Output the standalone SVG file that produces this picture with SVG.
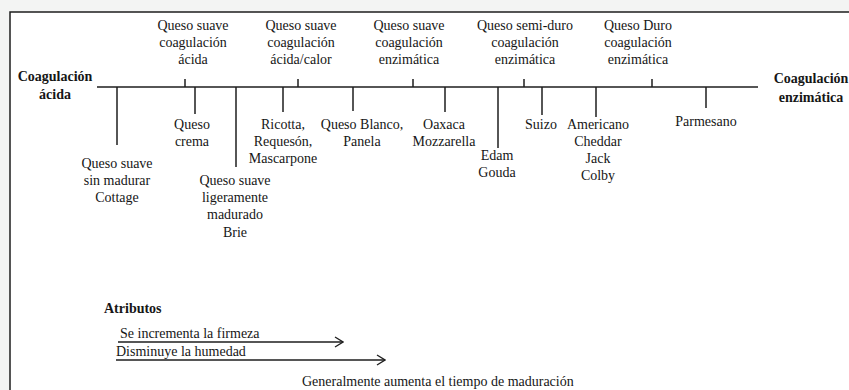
<svg xmlns="http://www.w3.org/2000/svg" width="849" height="390" viewBox="0 0 849 390">
<style>
text{font-family:"Liberation Serif","Times New Roman",serif;font-size:14px;fill:#161616;text-anchor:middle}
.b{font-weight:bold}
.l{text-anchor:start}
.ln{stroke:#1e1e1e;stroke-width:1.5;fill:none}
</style>
<defs>
<marker id="chev" viewBox="0 0 10 12" refX="9" refY="6" markerWidth="10" markerHeight="12" markerUnits="userSpaceOnUse" orient="auto">
<path d="M1,1 L9,6 L1,11" fill="none" stroke="#1e1e1e" stroke-width="1.3"/>
</marker>
</defs>
<rect x="0" y="0" width="849" height="390" fill="#f3f4f3"/>
<rect x="10" y="12" width="839" height="378" fill="#ffffff"/>
<path class="ln" d="M10,390 V12 H849" stroke-width="1.6"/>

<g id="connectors">
<line class="ln" x1="97" y1="87" x2="758" y2="87"/>
<!-- upper ticks -->
<line class="ln" x1="185" y1="79" x2="185" y2="87"/>
<line class="ln" x1="298" y1="79" x2="298" y2="87"/>
<line class="ln" x1="413" y1="79" x2="413" y2="87"/>
<line class="ln" x1="524" y1="79" x2="524" y2="87"/>
<line class="ln" x1="652" y1="79" x2="652" y2="87"/>
<!-- lower ticks -->
<line class="ln" x1="117" y1="87" x2="117" y2="145"/>
<line class="ln" x1="195" y1="87" x2="195" y2="114"/>
<line class="ln" x1="236" y1="87" x2="236" y2="167"/>
<line class="ln" x1="283" y1="87" x2="283" y2="112"/>
<line class="ln" x1="353" y1="87" x2="353" y2="111"/>
<line class="ln" x1="445" y1="87" x2="445" y2="112"/>
<line class="ln" x1="498" y1="87" x2="498" y2="148"/>
<line class="ln" x1="542" y1="87" x2="542" y2="115"/>
<line class="ln" x1="596" y1="87" x2="596" y2="117"/>
<line class="ln" x1="706" y1="87" x2="706" y2="108"/>
<!-- attribute arrows -->
<line class="ln" x1="118" y1="342" x2="343" y2="342" stroke-width="1.2" marker-end="url(#chev)"/>
<line class="ln" x1="116" y1="360" x2="385" y2="360" stroke-width="1.2" marker-end="url(#chev)"/>
</g>

<g id="end-left"><text class="b" x="55" y="81">Coagulación</text><text class="b" x="55" y="99">ácida</text></g>
<g id="end-right"><text class="b" x="811" y="83">Coagulación</text><text class="b" x="811" y="102">enzimática</text></g>

<g id="up-acida"><text x="193" y="30">Queso suave</text><text x="193" y="47">coagulación</text><text x="193" y="64">ácida</text></g>
<g id="up-acidacalor"><text x="301" y="30">Queso suave</text><text x="301" y="47">coagulación</text><text x="301" y="64">ácida/calor</text></g>
<g id="up-enzimatica"><text x="409" y="30">Queso suave</text><text x="409" y="47">coagulación</text><text x="409" y="64">enzimática</text></g>
<g id="up-semiduro"><text x="525" y="30">Queso semi-duro</text><text x="525" y="47">coagulación</text><text x="525" y="64">enzimática</text></g>
<g id="up-duro"><text x="638" y="30">Queso Duro</text><text x="638" y="47">coagulación</text><text x="638" y="64">enzimática</text></g>

<g id="cottage"><text x="117" y="168">Queso suave</text><text x="117" y="185">sin madurar</text><text x="117" y="202">Cottage</text></g>
<g id="crema"><text x="192" y="129">Queso</text><text x="192" y="146">crema</text></g>
<g id="brie"><text x="235" y="185">Queso suave</text><text x="235" y="202">ligeramente</text><text x="235" y="219">madurado</text><text x="235" y="237">Brie</text></g>
<g id="ricotta"><text x="283" y="129">Ricotta,</text><text x="283" y="146">Requesón,</text><text x="283" y="163">Mascarpone</text></g>
<g id="blanco"><text x="362" y="129">Queso Blanco,</text><text x="362" y="146">Panela</text></g>
<g id="oaxaca"><text x="444" y="129">Oaxaca</text><text x="444" y="146">Mozzarella</text></g>
<g id="edam"><text x="497" y="160">Edam</text><text x="497" y="177">Gouda</text></g>
<g id="suizo"><text x="541" y="129">Suizo</text></g>
<g id="americano"><text x="598" y="129">Americano</text><text x="598" y="146">Cheddar</text><text x="598" y="163">Jack</text><text x="598" y="180">Colby</text></g>
<g id="parmesano"><text x="706" y="126">Parmesano</text></g>

<g id="atributos">
<text class="b l" x="104" y="313">Atributos</text>
<text class="l" x="120" y="338">Se incrementa la firmeza</text>
<text class="l" x="116" y="356">Disminuye la humedad</text>
<text class="l" x="302" y="386">Generalmente aumenta el tiempo de maduración</text>
</g>
</svg>
